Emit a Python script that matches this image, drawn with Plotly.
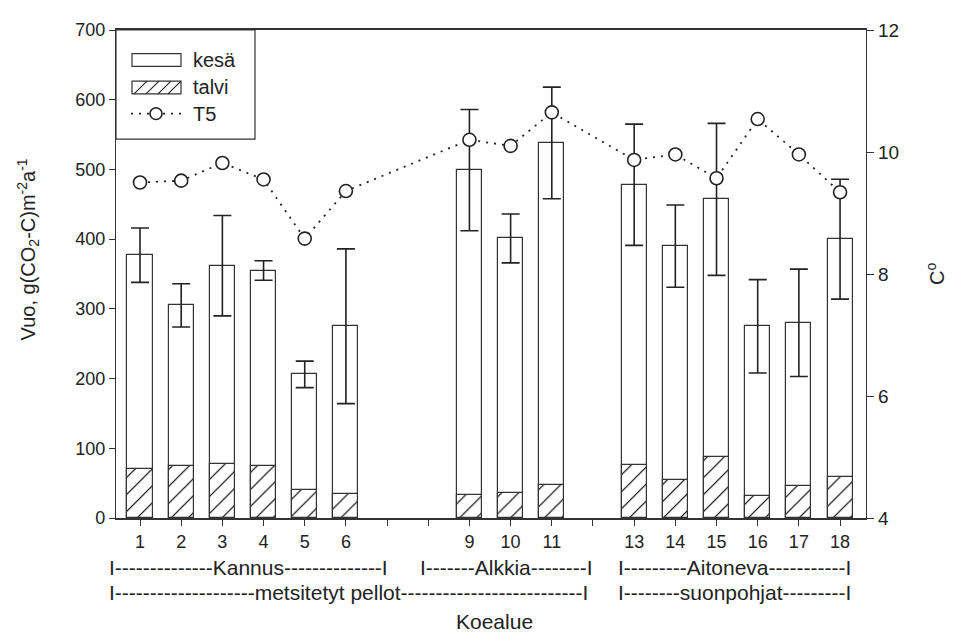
import plotly.graph_objects as go

# ---------------- data ----------------
sites = [1, 2, 3, 4, 5, 6, 9, 10, 11, 13, 14, 15, 16, 17, 18]
kesa = [377, 305, 362, 355, 206, 275, 499, 401, 538, 478, 390, 457, 275, 280, 400]
kesa_err = [39, 31, 72, 14, 19, 111, 87, 35, 80, 87, 59, 109, 67, 77, 86]
talvi = [71, 75, 78, 75, 40, 35, 33, 36, 48, 76, 55, 87, 31, 46, 59]
t5 = [9.50, 9.53, 9.82, 9.55, 8.58, 9.36, 10.20, 10.10, 10.65,
      9.87, 9.96, 9.57, 10.54, 9.96, 9.34]
tick_labels = [str(s) for s in sites]

FONT = "Liberation Sans, Arial, sans-serif"
INK = "#222"
DOTS = "2px,6px"

# page geometry in pixels (layout helpers only)
OFF = 8                      # default body margin of the html page
L, R, T, B = 116, 866, 22, 518
W, H = 959 - OFF, 635 - OFF


def px(x):
    return (x - L) / (R - L)


def py(y):
    return (B - y) / (B - T)


fig = go.Figure()

fig.add_trace(go.Bar(
    x=sites, y=kesa, name="kesä", width=0.61,
    marker=dict(color="white", line=dict(color="#333", width=1.2)),
    error_y=dict(type="data", array=kesa_err, symmetric=True,
                 color=INK, thickness=1.6, width=9),
    showlegend=False,
))
fig.add_trace(go.Bar(
    x=sites, y=talvi, name="talvi", width=0.61,
    marker=dict(color="white", line=dict(color="#333", width=1.2),
                pattern=dict(shape="/", size=12, solidity=0.1,
                             fgcolor="#000", fgopacity=1, bgcolor="white")),
    showlegend=False,
))
fig.add_trace(go.Scatter(
    x=sites, y=t5, name="T5", yaxis="y2", mode="lines+markers",
    line=dict(color="#222", width=1.8, dash=DOTS),
    marker=dict(symbol="circle", size=13, color="white",
                line=dict(color=INK, width=1.6)),
    cliponaxis=False, showlegend=False,
))

shapes = []
annotations = []

# ---- custom legend ----
shapes.append(dict(type="rect", xref="paper", yref="paper",
                   x0=px(116), x1=px(255), y0=py(133), y1=py(22),
                   line=dict(color="#333", width=1.2), fillcolor="white",
                   layer="above"))
shapes.append(dict(type="rect", xref="paper", yref="paper",
                   x0=px(132), x1=px(181), y0=py(59), y1=py(46),
                   line=dict(color="#333", width=1.2), fillcolor="white",
                   layer="above"))
shapes.append(dict(type="rect", xref="paper", yref="paper",
                   x0=px(132), x1=px(181), y0=py(87), y1=py(74),
                   line=dict(color="#333", width=1.2), fillcolor="white",
                   layer="above"))
for xs in (134, 146, 158, 168):
    xe = min(xs + 13, 181)
    shapes.append(dict(type="line", xref="paper", yref="paper",
                       x0=px(xs), x1=px(xe),
                       y0=py(87), y1=py(87 - (xe - xs)),
                       line=dict(color="#222", width=1.1), layer="above"))
shapes.append(dict(type="line", xref="paper", yref="paper",
                   x0=px(131), x1=px(181), y0=py(107), y1=py(107),
                   line=dict(color="#222", width=1.8, dash=DOTS),
                   layer="above"))
shapes.append(dict(type="circle", xref="paper", yref="paper",
                   x0=px(150), x1=px(162), y0=py(113), y1=py(101),
                   line=dict(color=INK, width=1.6), fillcolor="white",
                   layer="above"))
for txt, yy in (("kesä", 52), ("talvi", 80), ("T5", 107)):
    annotations.append(dict(text=txt, xref="paper", yref="paper",
                            x=px(191), y=py(yy), xanchor="left",
                            yanchor="middle", showarrow=False,
                            font=dict(family=FONT, size=20, color=INK)))

# ---- group labels below the x axis ----
groups = [
    ("I" + "-" * 14 + "Kannus" + "-" * 14 + "I", 107, 568),
    ("I" + "-" * 7 + "Alkkia" + "-" * 8 + "I", 418, 568),
    ("I" + "-" * 9 + "Aitoneva" + "-" * 11 + "I", 616, 568),
    ("I" + "-" * 20 + "metsitetyt pellot" + "-" * 26 + "I", 107, 594),
    ("I" + "-" * 8 + "suonpohjat" + "-" * 9 + "I", 616, 594),
]
for txt, xx, yy in groups:
    annotations.append(dict(text=txt, xref="paper", yref="paper",
                            x=px(xx), y=py(yy), xanchor="left",
                            yanchor="middle", showarrow=False,
                            font=dict(family=FONT, size=21, color=INK)))

annotations.append(dict(text="Koealue", xref="paper", yref="paper",
                        x=px(494), y=py(623), xanchor="center",
                        yanchor="middle", showarrow=False,
                        font=dict(family=FONT, size=21, color=INK)))
annotations.append(dict(
    text="Vuo, g(CO<sub>2</sub>-C)m<sup>-2</sup>a<sup>-1</sup>",
    xref="paper", yref="paper", x=px(28), y=py(245), textangle=-90,
    xanchor="center", yanchor="middle", showarrow=False,
    font=dict(family=FONT, size=20, color=INK)))
annotations.append(dict(
    text="C<sup>o</sup>", xref="paper", yref="paper", x=px(935), y=py(270),
    textangle=-90, xanchor="center", yanchor="middle", showarrow=False,
    font=dict(family=FONT, size=20, color=INK)))

fig.update_layout(
    width=W, height=H,
    margin=dict(l=L - OFF, r=W - (R - OFF), t=T - OFF, b=H - (B - OFF)),
    paper_bgcolor="white", plot_bgcolor="white",
    barmode="overlay", bargap=0,
    font=dict(family=FONT, size=18, color=INK),
    showlegend=False,
    shapes=shapes, annotations=annotations,
    xaxis=dict(range=[0.417, 18.63], tickmode="array",
               tickvals=sites, ticktext=tick_labels,
               ticks="outside", ticklen=6, tickcolor="#333", tickwidth=1.2,
               minor=dict(tick0=0, dtick=1, ticks="outside", ticklen=6,
                          tickcolor="#333", tickwidth=1.2, showgrid=False),
               showline=True, linecolor="#333", linewidth=1.8, mirror=True,
               showgrid=False, zeroline=False,
               tickfont=dict(family=FONT, size=18, color=INK)),
    yaxis=dict(range=[0, 700], dtick=100, ticks="outside", ticklen=6,
               tickcolor="#333", tickwidth=1.2,
               showline=True, linecolor="#333", linewidth=1.2,
               showgrid=False, zeroline=False,
               tickfont=dict(family=FONT, size=18, color=INK)),
    yaxis2=dict(range=[4, 12], dtick=2, overlaying="y", side="right",
                ticks="outside", ticklen=7, tickcolor="#333", tickwidth=1.2,
                showline=True, linecolor="#333", linewidth=1.2,
                showgrid=False, zeroline=False,
                tickfont=dict(family=FONT, size=19, color=INK)),
)

fig.write_html("out.html")
